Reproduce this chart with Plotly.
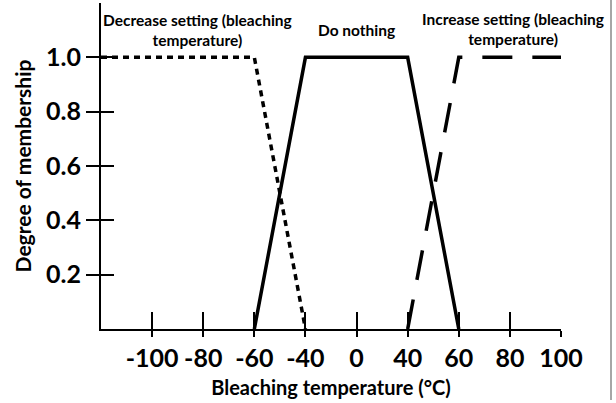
import numpy as np
import plotly.graph_objects as go

# Axis scale: tick temperatures are evenly spaced on the chart (non-linear axis)
scale_temps = [-120, -100, -80, -60, -40, 0, 40, 60, 80, 100]
tick_temps = [-100, -80, -60, -40, 0, 40, 60, 80, 100]
tick_labels = ["-100", "-80", "-60", "-40", "0", "40", "60", "80", "100"]
y_ticks = [0.2, 0.4, 0.6, 0.8, 1.0]
y_tick_labels = ["0.2", "0.4", "0.6", "0.8", "1.0"]

decrease_x = [-120, -60, -40]
decrease_y = [1.0, 1.0, 0.0]
nothing_x = [-60, -40, 40, 60]
nothing_y = [0.0, 1.0, 1.0, 0.0]
increase_x = [40, 60, 100]
increase_y = [0.0, 1.0, 1.0]


def pos(t):
    return list(np.interp(t, scale_temps, list(range(len(scale_temps)))))


FONT = "Lato"
fig = go.Figure()
fig.add_trace(go.Scatter(x=pos(decrease_x), y=decrease_y, mode="lines",
                         line=dict(color="black", width=3.5, dash="6px,5px"),
                         showlegend=False, hoverinfo="skip"))
fig.add_trace(go.Scatter(x=pos(nothing_x), y=nothing_y, mode="lines",
                         line=dict(color="black", width=3.5),
                         showlegend=False, hoverinfo="skip"))
fig.add_trace(go.Scatter(x=pos(increase_x), y=increase_y, mode="lines",
                         line=dict(color="black", width=3.5, dash="30px,20px"),
                         showlegend=False, hoverinfo="skip"))
# invisible trace so overlay axes (inner halves of crossing ticks) render
fig.add_trace(go.Scatter(x=[None], y=[None], xaxis="x2", yaxis="y2",
                         showlegend=False, hoverinfo="skip"))

xr = [0, 9]
yr = [0, 1.2]
tickpos = pos(tick_temps)

fig.update_layout(
    width=616, height=403,
    margin=dict(l=101, r=55, t=3, b=74),
    paper_bgcolor="white", plot_bgcolor="white",
    font=dict(family=FONT, color="black", weight=700),
    xaxis=dict(range=xr, showgrid=False, zeroline=False, showline=True,
               linecolor="black", linewidth=2, ticks="outside", ticklen=6,
               tickwidth=2, tickcolor="black", tickvals=tickpos, automargin=False,
               ticktext=tick_labels, tickfont=dict(size=25, family=FONT, weight=700),
               title=dict(text="Bleaching temperature (°C)",
                          font=dict(size=20, family=FONT, weight=700), standoff=10)),
    yaxis=dict(range=yr, showgrid=False, zeroline=False, showline=True,
               linecolor="black", linewidth=2, ticks="outside", ticklen=13,
               tickwidth=2, tickcolor="black", tickvals=y_ticks, automargin=False,
               ticktext=y_tick_labels, tickfont=dict(size=25, family=FONT, weight=700),
               title=dict(text="Degree of membership",
                          font=dict(size=21, family=FONT, weight=700), standoff=9)),
    xaxis2=dict(range=xr, overlaying="x", anchor="y", side="bottom",
                showgrid=False, zeroline=False, showline=False, ticks="inside",
                ticklen=17, tickwidth=2, tickcolor="black", tickvals=tickpos,
                showticklabels=False, automargin=False),
    yaxis2=dict(range=yr, overlaying="y", anchor="x", side="left",
                showgrid=False, zeroline=False, showline=False, ticks="inside",
                ticklen=13, tickwidth=2, tickcolor="black", tickvals=y_ticks,
                showticklabels=False, automargin=False),
)

ann_font = dict(size=15.5, family=FONT, weight=700, color="black")
fig.add_annotation(x=1.88, y=1.10, xref="x", yref="y",
                   text="Decrease setting (bleaching<br>temperature)",
                   showarrow=False, font=ann_font, align="center")
fig.add_annotation(x=5.0, y=1.10, xref="x", yref="y", text="Do nothing",
                   showarrow=False, font=ann_font, align="center")
fig.add_annotation(x=8.06, y=1.105, xref="x", yref="y",
                   text="Increase setting (bleaching<br>temperature)",
                   showarrow=False, font=ann_font, align="center")

# light frame edge on the right of the image
fig.add_shape(type="line", xref="paper", yref="paper",
              x0=1.1087, x1=1.1087, y0=-0.218, y1=1.009,
              line=dict(color="#888888", width=1.5))

fig.write_html("out.html", config={"displayModeBar": False},
               post_script="document.body.style.margin='0px';")
